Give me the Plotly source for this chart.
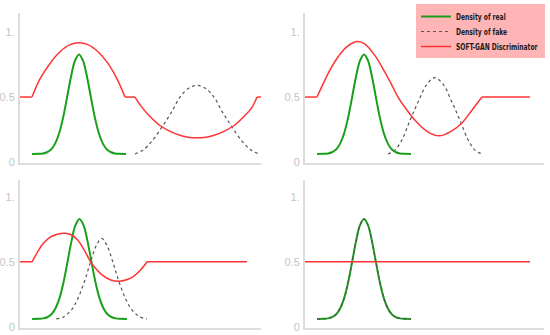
import plotly.graph_objects as go

# ---- data ----
# real density (same in every panel)
real_x = [12, 19, 23, 27, 31, 35, 39, 43, 47, 51, 55, 59, 63, 67, 71, 75, 79, 83, 87, 91, 95, 99, 106]
real_y = [0.06, 0.061, 0.064, 0.073, 0.094, 0.138, 0.216, 0.337, 0.494, 0.657, 0.782, 0.83,
          0.782, 0.657, 0.494, 0.337, 0.216, 0.138, 0.094, 0.073, 0.064, 0.061, 0.06]

# fake density per panel
fake1_x = [115, 123, 132, 143, 152, 160, 169, 177, 185, 194, 202, 211, 222, 231, 239]
fake1_y = [0.06, 0.09, 0.16, 0.28, 0.39, 0.50, 0.57, 0.59, 0.57, 0.50, 0.39, 0.28, 0.16, 0.09, 0.06]
fake2_x = [83, 90, 97, 105, 113, 122, 130, 138, 147, 155, 163, 170, 177]
fake2_y = [0.06, 0.09, 0.17, 0.32, 0.46, 0.60, 0.65, 0.60, 0.46, 0.32, 0.17, 0.09, 0.06]
fake3_x = [36, 43, 51, 57, 64, 70, 76, 81, 86, 92, 98, 105, 111, 119, 126]
fake3_y = [0.06, 0.075, 0.13, 0.21, 0.35, 0.50, 0.63, 0.68, 0.63, 0.50, 0.35, 0.21, 0.13, 0.075, 0.06]
fake4_x = real_x
fake4_y = real_y

# SOFT-GAN discriminator per panel
disc1_x = [0, 12, 20, 30, 40, 50, 59, 68, 78, 88, 97, 105, 115, 122, 130, 140, 150, 160, 168, 177,
           186, 194, 204, 214, 224, 232, 237, 241]
disc1_y = [0.5, 0.5, 0.64, 0.76, 0.85, 0.905, 0.92, 0.905, 0.85, 0.76, 0.64, 0.5, 0.5, 0.42, 0.35,
           0.28, 0.235, 0.205, 0.19, 0.185, 0.19, 0.205, 0.235, 0.28, 0.35, 0.42, 0.5, 0.5]
disc2_x = [0, 12, 18, 25, 33, 42, 52, 60, 70, 80, 87, 93, 100, 110, 122, 134, 146, 157, 168, 177, 225]
disc2_y = [0.5, 0.5, 0.6, 0.71, 0.81, 0.89, 0.93, 0.91, 0.82, 0.69, 0.59, 0.5, 0.42, 0.32, 0.235,
           0.2, 0.235, 0.3, 0.41, 0.5, 0.5]
disc3_x = [0, 12, 17, 23, 30, 36, 43, 50, 57, 63, 70, 76, 82, 90, 99, 107, 113, 120, 126, 225]
disc3_y = [0.5, 0.5, 0.57, 0.64, 0.69, 0.71, 0.72, 0.71, 0.67, 0.6, 0.5, 0.44, 0.395, 0.36, 0.35,
           0.365, 0.39, 0.44, 0.5, 0.5]
disc4_x = [0, 225]
disc4_y = [0.5, 0.5]

tick_vals = [0, 0.5, 1]
tick_text = ["0", "0.5", "1."]

# ---- styling ----
GREEN = "#1a9f1a"
RED = "#ff3333"
FAKE = "#555555"


def split_segments(xs, ys):
    """Split a polyline into flat (equal-y) pairs and curved runs."""
    segs = []
    cur = [0]
    for i in range(len(xs) - 1):
        if ys[i] == ys[i + 1]:
            if len(cur) > 1:
                segs.append(("spline", cur))
            segs.append(("linear", [i, i + 1]))
            cur = [i + 1]
        else:
            cur.append(i + 1)
    if len(cur) > 1:
        segs.append(("spline", cur))
    return [(shape, [xs[k] for k in idx], [ys[k] for k in idx]) for shape, idx in segs]


fig = go.Figure()

panels = [
    (1, fake1_x, fake1_y, disc1_x, disc1_y),
    (2, fake2_x, fake2_y, disc2_x, disc2_y),
    (3, fake3_x, fake3_y, disc3_x, disc3_y),
    (4, fake4_x, fake4_y, disc4_x, disc4_y),
]

for i, fx, fy, dx, dy in panels:
    suf = "" if i == 1 else str(i)
    xa, ya = "x" + suf, "y" + suf
    first = i == 1
    fig.add_trace(go.Scatter(x=real_x, y=real_y, mode="lines", line=dict(color=GREEN, width=2, shape="spline"),
                             name="Density of real", legendgroup="real", showlegend=first,
                             xaxis=xa, yaxis=ya))
    fig.add_trace(go.Scatter(x=fx, y=fy, mode="lines", line=dict(color=FAKE, width=1.2, dash="dot", shape="spline"),
                             name="Density of fake", legendgroup="fake", showlegend=first,
                             xaxis=xa, yaxis=ya))
    for k, (shape, sx, sy) in enumerate(split_segments(dx, dy)):
        fig.add_trace(go.Scatter(x=sx, y=sy, mode="lines", line=dict(color=RED, width=1.5, shape=shape),
                                 name="SOFT-GAN Discriminator", legendgroup="disc",
                                 showlegend=(first and k == 0), xaxis=xa, yaxis=ya))

W, H = 550, 335
xdom_l = [20 / W, 261 / W]
xdom_r = [305 / W, 544 / W]
ydom_t = [(H - 163) / H, (H - 13) / H]
ydom_b = [(H - 328) / H, (H - 180) / H]

axis_common = dict(showgrid=False, zeroline=False, showline=True, linecolor="#dddddd", linewidth=2,
                   automargin=False)
yaxis_common = dict(axis_common, tickvals=tick_vals, ticktext=tick_text,
                    tickfont=dict(family="Liberation Sans, Arial", size=11, color="#c4c4c4"),
                    ticks="", ticklabelstandoff=1)
xaxis_common = dict(axis_common, showticklabels=False, ticks="")

layout = dict(
    width=W, height=H,
    margin=dict(l=0, r=0, t=0, b=0, autoexpand=False),
    paper_bgcolor="white", plot_bgcolor="rgba(0,0,0,0)",
    xaxis=dict(xaxis_common, domain=xdom_l, range=[0, 241], anchor="y"),
    yaxis=dict(yaxis_common, domain=ydom_t, range=[-0.01, 1.15], anchor="x"),
    xaxis2=dict(xaxis_common, domain=xdom_r, range=[0, 239], anchor="y2"),
    yaxis2=dict(yaxis_common, domain=ydom_t, range=[-0.01, 1.15], anchor="x2"),
    xaxis3=dict(xaxis_common, domain=xdom_l, range=[0, 239], anchor="y3"),
    yaxis3=dict(yaxis_common, domain=ydom_b, range=[-0.01, 1.13], anchor="x3"),
    xaxis4=dict(xaxis_common, domain=xdom_r, range=[0, 239], anchor="y4"),
    yaxis4=dict(yaxis_common, domain=ydom_b, range=[-0.01, 1.13], anchor="x4"),
    legend=dict(x=416 / W, y=1 - 2 / H, xanchor="left", yanchor="top",
                bgcolor="rgba(0,0,0,0)", borderwidth=0,
                font=dict(family="DejaVu Sans Condensed", size=9,
                          color="#1a1a1a", weight="bold"),
                tracegroupgap=0, itemwidth=30),
    shapes=[dict(type="rect", xref="paper", yref="paper", layer="below",
                 x0=416 / W, x1=545 / W, y0=1 - 58 / H, y1=1 - 4 / H,
                 fillcolor="#ffb5b5", line=dict(width=0))],
    showlegend=True,
)
fig.update_layout(**layout)

post = """
document.body.style.margin = '0';
var gd = document.getElementById('{plot_id}');
gd.querySelectorAll('.legendtext').forEach(function(t) {
    var w = t.getComputedTextLength();
    t.setAttribute('textLength', (w * 0.74).toFixed(1));
    t.setAttribute('lengthAdjust', 'spacingAndGlyphs');
});
var items = gd.querySelectorAll('.legend .traces');
var y0 = null;
items.forEach(function(g, i) {
    var m = /translate\\(([-\\d.]+),\\s*([-\\d.]+)\\)/.exec(g.getAttribute('transform') || '');
    if (!m) return;
    var x = parseFloat(m[1]), y = parseFloat(m[2]);
    if (y0 === null) y0 = y;
    g.setAttribute('transform', 'translate(' + x + ',' + (y0 + 15 * i) + ')');
});
"""
fig.write_html("out.html", post_script=post, config={"displayModeBar": False})
